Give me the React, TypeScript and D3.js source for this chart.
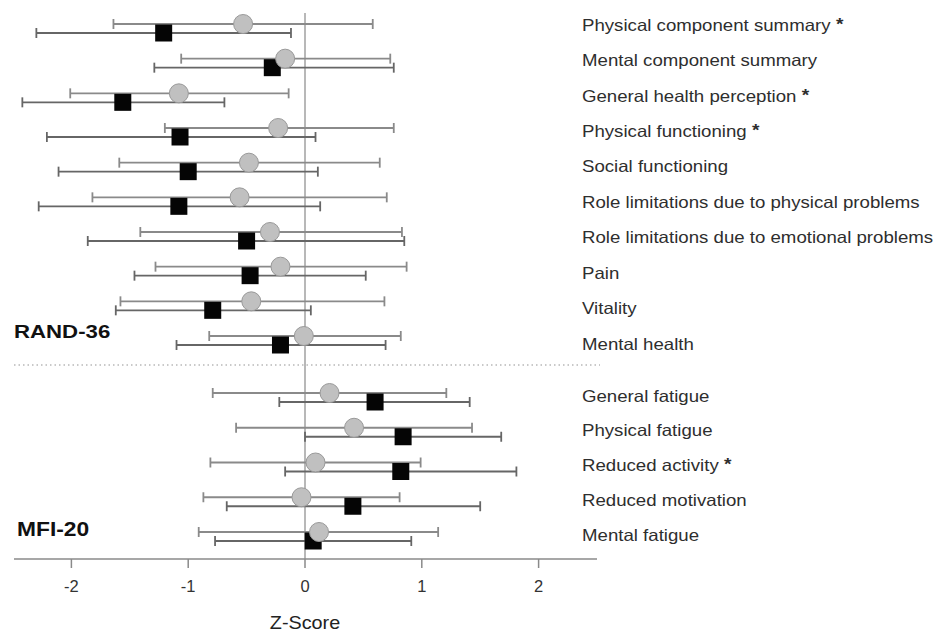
import React from 'react';
import * as d3 from 'd3';

// RAND-36 subscales (top block)
const randCategories = [
  'Physical component summary',
  'Mental component summary',
  'General health perception',
  'Physical functioning',
  'Social functioning',
  'Role limitations due to physical problems',
  'Role limitations due to emotional problems',
  'Pain',
  'Vitality',
  'Mental health',
];
// MFI-20 subscales (bottom block)
const mfiCategories = [
  'General fatigue',
  'Physical fatigue',
  'Reduced activity',
  'Reduced motivation',
  'Mental fatigue',
];
const significant = [
  'Physical component summary',
  'General health perception',
  'Physical functioning',
  'Reduced activity',
];

// grey circles: mean z-score and range
const randCircleMean = [-0.53, -0.17, -1.08, -0.23, -0.48, -0.56, -0.3, -0.21, -0.46, -0.01];
const randCircleLow = [-1.64, -1.06, -2.01, -1.2, -1.59, -1.82, -1.41, -1.28, -1.58, -0.82];
const randCircleHigh = [0.58, 0.73, -0.14, 0.76, 0.64, 0.7, 0.83, 0.87, 0.68, 0.82];
// black squares
const randSquareMean = [-1.21, -0.28, -1.56, -1.07, -1.0, -1.08, -0.5, -0.47, -0.79, -0.21];
const randSquareLow = [-2.3, -1.29, -2.42, -2.21, -2.11, -2.28, -1.86, -1.46, -1.62, -1.1];
const randSquareHigh = [-0.12, 0.76, -0.69, 0.09, 0.11, 0.13, 0.85, 0.52, 0.05, 0.69];

const mfiCircleMean = [0.21, 0.42, 0.09, -0.03, 0.12];
const mfiCircleLow = [-0.79, -0.59, -0.81, -0.87, -0.91];
const mfiCircleHigh = [1.21, 1.43, 0.99, 0.81, 1.14];
const mfiSquareMean = [0.6, 0.84, 0.82, 0.41, 0.07];
const mfiSquareLow = [-0.22, 0.0, -0.17, -0.67, -0.77];
const mfiSquareHigh = [1.41, 1.68, 1.81, 1.5, 0.91];

const xTicks = [-2, -1, 0, 1, 2];

const W = 939;
const H = 635;
const FONT = 'Liberation Sans, Arial, sans-serif';

const x = d3.scaleLinear().domain([-2.5, 2.5]).range([13, 597]);
const yRand = d3.scalePoint<string>().domain(randCategories).range([28.5, 340.5]);
const yMfi = d3.scalePoint<string>().domain(mfiCategories).range([397.5, 536.5]);
const yRandLabel = d3.scalePoint<string>().domain(randCategories).range([25, 344]);
const yMfiLabel = d3.scalePoint<string>().domain(mfiCategories).range([396, 535]);

const AXIS_Y = 559;
const OFFSET = 4.5;
const CAP = 5;
const SQ = 17;

type Row = { name: string; cy: number; sy: number; ly: number; c: number[]; s: number[] };

const buildRows = (
  cats: string[],
  y: d3.ScalePoint<string>,
  ly: d3.ScalePoint<string>,
  cm: number[], cl: number[], ch: number[],
  sm: number[], sl: number[], sh: number[],
): Row[] =>
  cats.map((name, i) => ({
    name,
    cy: (y(name) as number) - OFFSET,
    sy: (y(name) as number) + OFFSET,
    ly: ly(name) as number,
    c: [cl[i], cm[i], ch[i]],
    s: [sl[i], sm[i], sh[i]],
  }));

const rows = [
  ...buildRows(randCategories, yRand, yRandLabel,
    randCircleMean, randCircleLow, randCircleHigh,
    randSquareMean, randSquareLow, randSquareHigh),
  ...buildRows(mfiCategories, yMfi, yMfiLabel,
    mfiCircleMean, mfiCircleLow, mfiCircleHigh,
    mfiSquareMean, mfiSquareLow, mfiSquareHigh),
];

const ErrorBar = ({ lo, hi, y, color }: { lo: number; hi: number; y: number; color: string }) => (
  <g stroke={color} strokeWidth={1.8} fill="none">
    <line x1={x(lo)} x2={x(hi)} y1={y} y2={y} />
    <line x1={x(lo)} x2={x(lo)} y1={y - CAP} y2={y + CAP} />
    <line x1={x(hi)} x2={x(hi)} y1={y - CAP} y2={y + CAP} />
  </g>
);

export default function App() {
  return (
    <svg
      width={W}
      height={H}
      style={{ position: 'absolute', left: 0, top: 0, background: '#fff' }}
      fontFamily={FONT}
    >
      {/* zero reference line */}
      <line x1={x(0)} x2={x(0)} y1={13} y2={AXIS_Y} stroke="#a0a0a0" strokeWidth={1.5} />

      {/* separator between questionnaires */}
      <line x1={14} x2={600} y1={365} y2={365} stroke="#b8b8b8" strokeWidth={1.5} strokeDasharray="1.5,3" />

      {rows.map((r) => (
        <g key={r.name}>
          <ErrorBar lo={r.c[0]} hi={r.c[2]} y={r.cy} color="#8a8a8a" />
          <ErrorBar lo={r.s[0]} hi={r.s[2]} y={r.sy} color="#666" />
          <rect x={x(r.s[1]) - SQ / 2} y={r.sy - SQ / 2} width={SQ} height={SQ} fill="#050505" />
          <circle cx={x(r.c[1])} cy={r.cy} r={9.5} fill="#c0c0c0" stroke="#999" strokeWidth={1} />
          <text
            transform={`translate(582,${r.ly}) scale(1.13,1)`}
            dominantBaseline="central"
            fontSize={16.5}
            fill="#2e2e2e"
          >
            {r.name}
            {significant.includes(r.name) && (
              <tspan fontWeight="bold" fontSize={17} dy={-1}>{'  *'}</tspan>
            )}
          </text>
        </g>
      ))}

      {/* block titles */}
      <text transform="translate(14,331) scale(1.17,1)" dominantBaseline="central" fontSize={19} fontWeight="bold" fill="#111">
        RAND-36
      </text>
      <text transform="translate(17,529) scale(1.17,1)" dominantBaseline="central" fontSize={19.5} fontWeight="bold" fill="#111">
        MFI-20
      </text>

      {/* x axis */}
      <line x1={14} x2={597} y1={AXIS_Y} y2={AXIS_Y} stroke="#8a8a8a" strokeWidth={1.5} />
      {xTicks.map((t) => (
        <g key={t}>
          <line x1={x(t)} x2={x(t)} y1={AXIS_Y} y2={AXIS_Y + 9} stroke="#8a8a8a" strokeWidth={1.5} />
          <text x={x(t)} y={AXIS_Y + 27} textAnchor="middle" dominantBaseline="central" fontSize={16.5} fill="#333">
            {t}
          </text>
        </g>
      ))}
      <text
        transform={`translate(${x(0)},623) scale(1.1,1)`}
        textAnchor="middle"
        dominantBaseline="central"
        fontSize={18}
        fill="#222"
      >
        Z-Score
      </text>
    </svg>
  );
}
